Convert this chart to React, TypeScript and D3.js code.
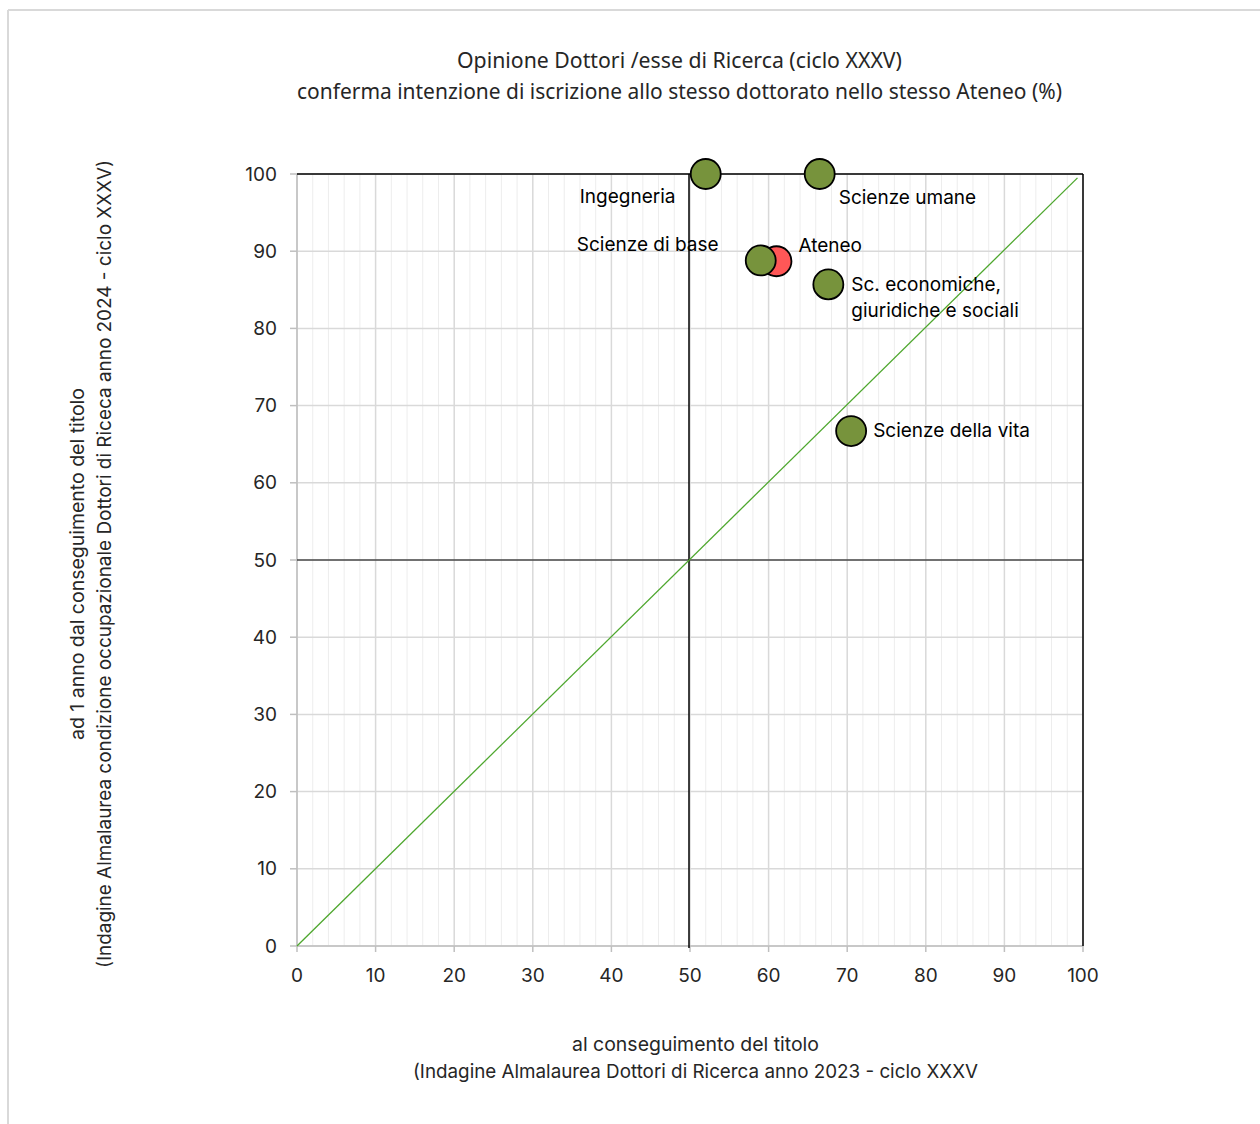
import React from "react";
import * as d3 from "d3";

const seriesNames = ["Ateneo", "Ingegneria", "Scienze umane", "Scienze di base", "Sc. economiche, giuridiche e sociali", "Scienze della vita"];
const xValues = [61.0, 52.0, 66.5, 59.0, 67.6, 70.5];
const yValues = [88.7, 100, 100, 88.8, 85.7, 66.7];
const isAteneo = [true, false, false, false, false, false];
const labelLines = [["Ateneo"], ["Ingegneria"], ["Scienze umane"], ["Scienze di base"], ["Sc. economiche,", "giuridiche e sociali"], ["Scienze della vita"]];
const xTicks = [0, 10, 20, 30, 40, 50, 60, 70, 80, 90, 100];
const yTicks = [0, 10, 20, 30, 40, 50, 60, 70, 80, 90, 100];
const diagLine: [number, number][] = [[0, 0], [99.3, 99.5]];
const refX = 50;
const refY = 50;
const titleLines = ["Opinione Dottori /esse di Ricerca (ciclo XXXV)", "conferma intenzione di iscrizione allo stesso dottorato nello stesso Ateneo (%)"];
const xTitleLines = ["al conseguimento del titolo", "(Indagine Almalaurea Dottori di Ricerca anno 2023 - ciclo XXXV"];
const yTitleLines = ["ad 1 anno dal conseguimento del titolo", "(Indagine Almalaurea condizione occupazionale Dottori di Riceca  anno 2024 - ciclo XXXV)"];

// label placement offsets (pixels, relative to point center)
const labelOffsets: [number, number][] = [[22, -16], [-126, 22], [19, 23], [-184, -16], [23, 0], [22, -1]];

const FONT = "Inter, 'Noto Sans', sans-serif";
const NARROW = "'Liberation Sans Narrow', 'Noto Sans', sans-serif";

export default function App() {
  const W = 1260, H = 1124;
  const x = d3.scaleLinear().domain([0, 100]).range([297, 1083]);
  const y = d3.scaleLinear().domain([0, 100]).range([946, 174]);
  const minorX = d3.range(0, 101, 2).filter((v) => v % 10 !== 0);
  const line = d3.line<[number, number]>().x((d) => x(d[0])).y((d) => y(d[1]));
  const textColor = "#262626";

  const titleWidths = [445, 765];
  const xTitleWidths = [247, 565];
  const yTitleWidths = [352, 808];

  return (
    <svg width={W} height={H} style={{ position: "absolute", left: 0, top: 0, background: "#fff" }} fontFamily={FONT}>
      <rect x={0} y={0} width={W} height={H} fill="#fff" />
      {/* outer frame */}
      <line x1={8} y1={10} x2={W} y2={10} stroke="#d9d9d9" strokeWidth={2} />
      <line x1={8} y1={10} x2={8} y2={H} stroke="#d9d9d9" strokeWidth={2} />

      {/* title */}
      {titleLines.map((t, i) => (
        <text key={t} x={679.5} y={68 + i * 31} textAnchor="middle" fontSize={21} fill={textColor} fontFamily={NARROW}
          textLength={titleWidths[i]} lengthAdjust="spacingAndGlyphs">{t}</text>
      ))}

      {/* minor vertical grid */}
      {minorX.map((v) => (
        <line key={"mx" + v} x1={x(v)} x2={x(v)} y1={y(100)} y2={y(0)} stroke="#ededed" strokeWidth={1} />
      ))}
      {/* major grid */}
      {xTicks.map((v) => (
        <line key={"gx" + v} x1={x(v)} x2={x(v)} y1={y(100)} y2={y(0)} stroke="#d9d9d9" strokeWidth={1.5} />
      ))}
      {yTicks.map((v) => (
        <line key={"gy" + v} x1={x(0)} x2={x(100)} y1={y(v)} y2={y(v)} stroke="#d9d9d9" strokeWidth={1.5} />
      ))}

      {/* axes */}
      <line x1={x(0)} x2={x(0)} y1={y(0)} y2={y(100)} stroke="#bfbfbf" strokeWidth={1.5} />
      <line x1={x(0)} x2={x(100)} y1={y(0)} y2={y(0)} stroke="#bfbfbf" strokeWidth={1.5} />
      {yTicks.map((v) => (
        <g key={"yt" + v}>
          <line x1={x(0) - 7} x2={x(0)} y1={y(v)} y2={y(v)} stroke="#bfbfbf" strokeWidth={1.5} />
          <text x={277} y={y(v)} dy="0.35em" textAnchor="end" fontSize={19} fill={textColor}>{v}</text>
        </g>
      ))}
      {xTicks.map((v) => (
        <g key={"xt" + v}>
          <line x1={x(v)} x2={x(v)} y1={y(0)} y2={y(0) + 6} stroke="#bfbfbf" strokeWidth={1.5} />
          <text x={x(v)} y={975} dy="0.35em" textAnchor="middle" fontSize={19} fill={textColor}>{v}</text>
        </g>
      ))}

      {/* black frame top/right */}
      <line x1={x(0)} x2={x(100)} y1={y(100)} y2={y(100)} stroke="#000" strokeWidth={1.5} />
      <line x1={x(100)} x2={x(100)} y1={y(100)} y2={y(0)} stroke="#000" strokeWidth={1.5} />

      {/* reference lines */}
      <line x1={x(refX) - 1} x2={x(refX) - 1} y1={y(100)} y2={y(0) + 2} stroke="#000" strokeWidth={1.5} />
      <line x1={x(0)} x2={x(100)} y1={y(refY)} y2={y(refY)} stroke="#000" strokeWidth={1.2} />

      {/* diagonal */}
      <path d={line(diagLine) || ""} fill="none" stroke="#4ea72e" strokeWidth={1.3} />

      {/* points */}
      {seriesNames.map((n, i) => (
        <circle key={n} cx={x(xValues[i])} cy={y(yValues[i])} r={15}
          fill={isAteneo[i] ? "#ff5757" : "#77933c"} stroke="#000" strokeWidth={1.8} />
      ))}

      {/* labels */}
      {seriesNames.map((n, i) => (
        <text key={"l" + n} fontSize={19} fill="#000">
          {labelLines[i].map((t, j) => (
            <tspan key={t} x={x(xValues[i]) + labelOffsets[i][0]} y={y(yValues[i]) + labelOffsets[i][1] + j * 26} dy="0.35em">{t}</tspan>
          ))}
        </text>
      ))}

      {/* x title */}
      {xTitleLines.map((t, i) => (
        <text key={t} x={695.5} y={1051 + i * 27} textAnchor="middle" fontSize={19} fill={textColor}
          textLength={xTitleWidths[i]} lengthAdjust="spacingAndGlyphs">{t}</text>
      ))}

      {/* y title */}
      {yTitleLines.map((t, i) => (
        <text key={t} transform={`translate(${84 + i * 27},564) rotate(-90)`} textAnchor="middle" fontSize={19} fill={textColor}
          textLength={yTitleWidths[i]} lengthAdjust="spacingAndGlyphs">{t}</text>
      ))}
    </svg>
  );
}
